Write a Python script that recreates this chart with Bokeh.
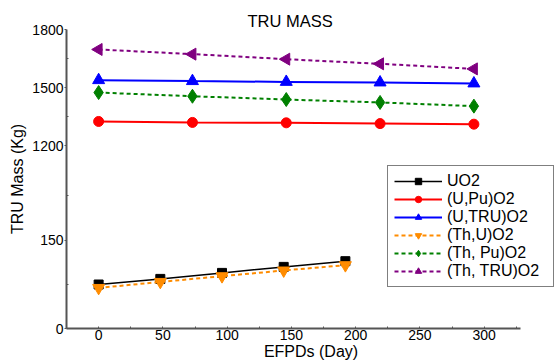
import math
from bokeh.plotting import figure
from bokeh.models import (ColumnDataSource, Range1d, FixedTicker, Legend, LegendItem, Title)
from bokeh.embed import file_html
from bokeh.resources import INLINE

# ---- data ----
x_low = [0, 48, 96, 144, 192]
x_high = [0, 73, 146, 219, 292]
uo2 = [74.7, 84.2, 94.4, 104.6, 114.3]
th_u = [68.9, 79.1, 88.8, 98.5, 107.5]
u_pu = [1326, 1321, 1319, 1315, 1312]
u_tru = [1539, 1534, 1530, 1527, 1522]
th_pu = [1475, 1456, 1439, 1424, 1405]
th_tru = [1697, 1673, 1647, 1623, 1597]

y_major = [0, 150, 1200, 1500, 1800]
y_minor = [75, 225, 1350, 1650]
x_ticks = [0, 50, 100, 150, 200, 250, 300]
x_minor = [-25, 25, 75, 125, 175, 225, 275, 325]

# broken y axis: lower segment 0-310 linear, upper segment 1200-1800 compressed
BREAK_V = 1200
BREAK_D = 310
UPPER_K = 0.3294


def brk(v):
    return v if v < BREAK_V else BREAK_D + (v - BREAK_V) * UPPER_K


FONT = "Liberation Sans"
X_AXIS_END = 328

p = figure(width=555, height=362, output_backend="svg", toolbar_location=None,
           x_range=Range1d(-25, 355.5), y_range=Range1d(0, brk(1800)),
           min_border_left=66, min_border_top=29, min_border_right=0, min_border_bottom=34)
p.title = Title(text="TRU MASS", align="left", offset=181, text_font=FONT, text_font_size="16.5px",
                text_font_style="normal", text_color="#000000", standoff=0)
p.grid.visible = False
p.outline_line_color = None
p.background_fill_color = "white"
p.border_fill_color = "white"

# axes
for ax in (p.xaxis[0], p.yaxis[0]):
    ax.axis_line_color = "#555555"
    ax.axis_line_width = 2
    ax.major_tick_line_color = "#555555"
    ax.minor_tick_line_color = "#555555"
    ax.major_tick_out = 2
    ax.major_tick_in = 0
    ax.minor_tick_out = 0
    ax.minor_tick_in = 2
    ax.major_label_text_font = FONT
    ax.major_label_text_font_size = "14px"
    ax.major_label_text_color = "#000000"
    ax.axis_label_text_font = FONT
    ax.axis_label_text_font_size = "16px"
    ax.axis_label_text_font_style = "normal"
    ax.axis_label_text_color = "#000000"
    ax.major_label_standoff = 1

p.xaxis.major_tick_out = 0
p.xaxis.major_tick_in = 2
p.xaxis.bounds = (-25, X_AXIS_END)
p.xaxis.axis_label = "EFPDs (Day)"
p.yaxis.axis_label = "TRU Mass (Kg)"
p.xaxis.axis_label_standoff = 0
p.yaxis.axis_label_standoff = 3
p.xaxis.ticker = FixedTicker(ticks=x_ticks, minor_ticks=x_minor)
p.yaxis.ticker = FixedTicker(ticks=[brk(v) for v in y_major], minor_ticks=[brk(v) for v in y_minor])
p.yaxis.major_label_overrides = {brk(v): str(v) for v in y_major}

series = [
    ("UO2", x_low, uo2, "#000000", "solid", "square", 9, 0.0, 1.5),
    ("(U,Pu)O2", x_high, u_pu, "#FF0000", "solid", "circle", 10, 0.0, 2),
    ("(U,TRU)O2", x_high, u_tru, "#0000FF", "solid", "triangle", 12, 0.0, 2),
    ("(Th,U)O2", x_low, th_u, "#FF8C00", "4 3", "inverted_triangle", 12, 0.0, 2),
    ("(Th, Pu)O2", x_high, th_pu, "#008000", "4 3", "diamond", 14, 0.0, 2),
    ("(Th, TRU)O2", x_high, th_tru, "#800080", "4 3", "triangle", 12, math.pi / 2, 2),
]

items = []
for name, xs, ys, color, dash, marker, size, angle, lw in series:
    src = ColumnDataSource(dict(x=xs, y=[brk(v) for v in ys]))
    r1 = p.line("x", "y", source=src, line_color=color, line_width=lw, line_dash=dash)
    r2 = p.scatter("x", "y", source=src, marker=marker, size=size, angle=angle,
                   fill_color=color, line_color=color)
    items.append(LegendItem(label=name, renderers=[r1, r2]))

legend = Legend(items=items, location=(321, 41), orientation="vertical",
                label_text_font=FONT, label_text_font_size="16px", label_text_color="#000000",
                glyph_width=48, glyph_height=16, label_height=18, label_width=100, spacing=0,
                padding=6, margin=0, label_standoff=5,
                border_line_color="#000000", border_line_width=1,
                background_fill_color="white", background_fill_alpha=1.0)
p.add_layout(legend, "center")

open("out.html", "w").write(file_html(p, INLINE))
